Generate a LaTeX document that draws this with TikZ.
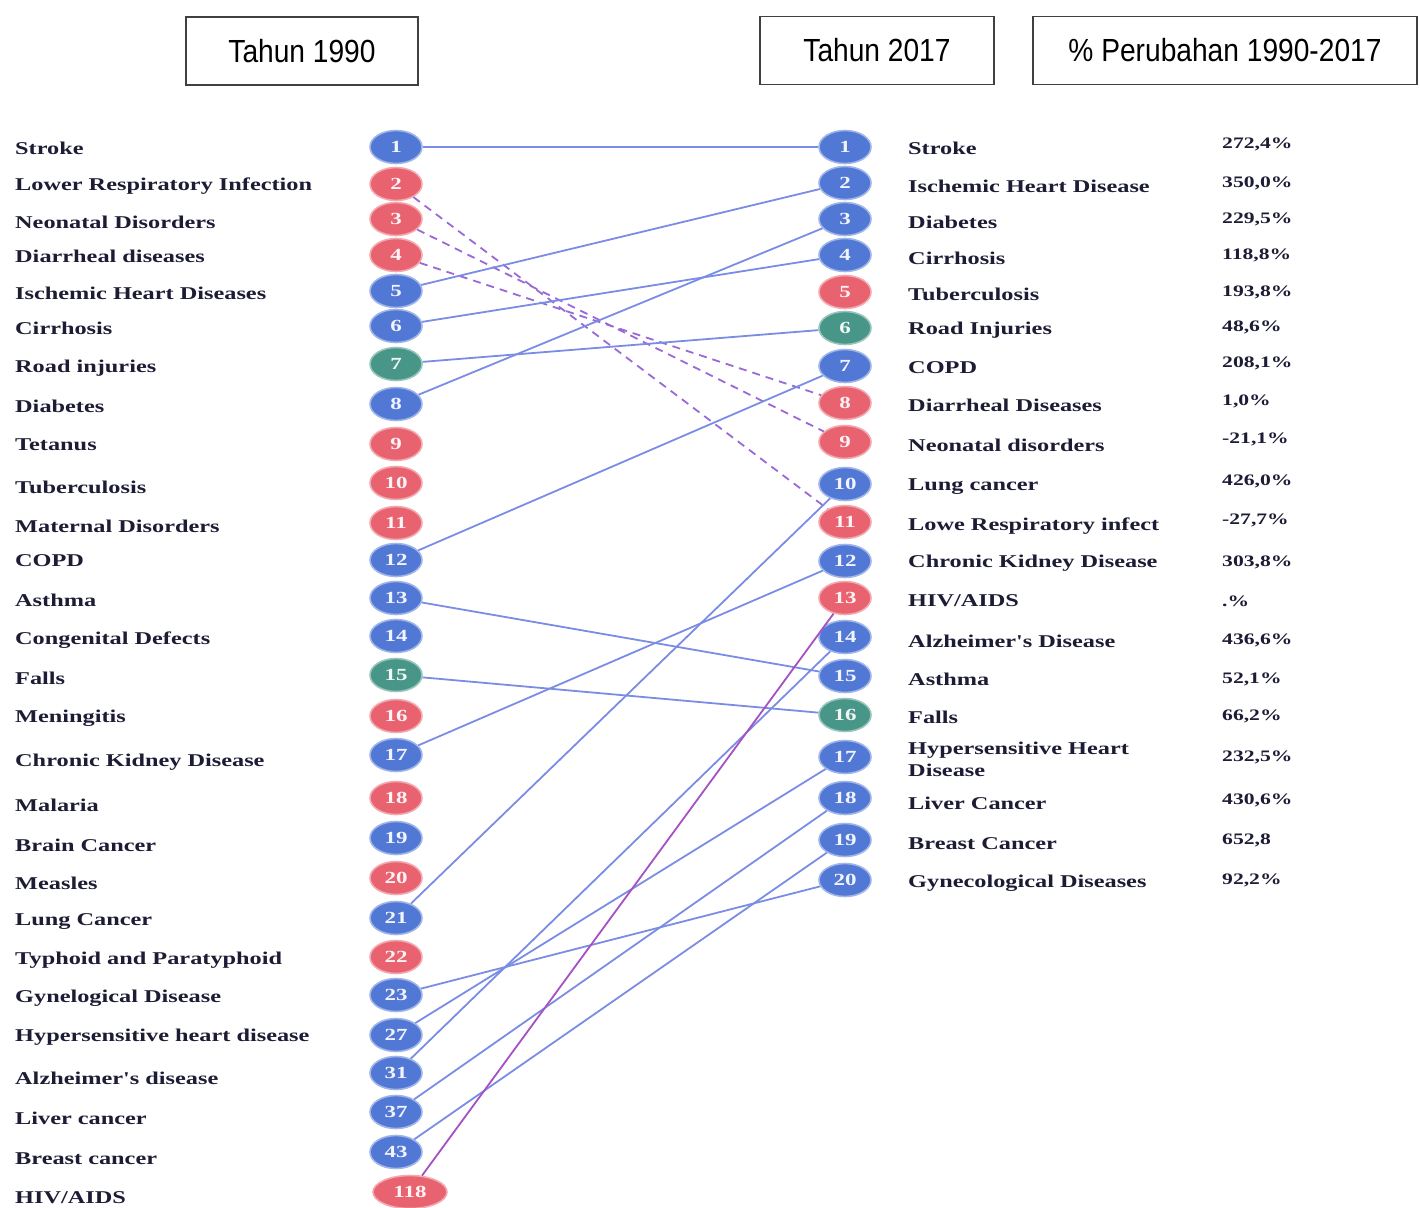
\documentclass[tikz,border=0pt]{standalone}
\usepackage{fontspec}
\usetikzlibrary{shapes.geometric}

\newfontfamily\headfont[FakeStretch=0.88]{Liberation Sans}
\newfontfamily\labelfont[FakeStretch=1.35]{Liberation Serif}

\definecolor{rankblue}{RGB}{82,120,214}
\definecolor{rankred}{RGB}{232,98,112}
\definecolor{rankgreen}{RGB}{72,150,135}
\definecolor{linkblue}{RGB}{122,140,228}
\definecolor{linkpurple}{RGB}{155,105,215}
\definecolor{hivpurple}{RGB}{165,80,195}
\definecolor{inkdark}{RGB}{28,28,52}

\tikzset{
  header/.style={draw=black!75, line width=1.4pt, minimum height=68pt, font=\headfont\fontsize{32}{36}\selectfont},
  rank/.style={ellipse, draw=#1!55!white, line width=1.6pt, fill=#1, minimum width=52pt, minimum height=33pt, inner sep=0pt, text=white!92!#1, font=\labelfont\bfseries\fontsize{17}{19}\selectfont},
  disease/.style={anchor=west, inner sep=0pt, text=inkdark, font=\labelfont\bfseries\fontsize{18}{22}\selectfont},
  change/.style={anchor=west, inner sep=0pt, text=inkdark, font=\labelfont\bfseries\fontsize{16}{18}\selectfont},
  rise/.style={linkblue, line width=1.8pt},
  drop/.style={linkpurple, line width=1.8pt, dash pattern=on 8pt off 6pt},
}

\begin{document}
\begin{tikzpicture}[x=1pt, y=-1pt]
    \useasboundingbox (0,0) rectangle (1420,1207);

    % headers
    \node[header, minimum width=232pt] (head1990) at (302,51) {Tahun 1990};
    \node[header, minimum width=234pt] (head2017) at (877,50.5) {Tahun 2017};
    \node[header, minimum width=384pt] (headpct) at (1225,50.5) {\% Perubahan 1990-2017};

    % 1990 names
    \node[disease] (oldname1) at (15,148) {Stroke};
    \node[disease] (oldname2) at (15,186) {Lower Respiratory Infection};
    \node[disease] (oldname3) at (15,222) {Neonatal Disorders};
    \node[disease] (oldname4) at (15,256) {Diarrheal diseases};
    \node[disease] (oldname5) at (15,293) {Ischemic Heart Diseases};
    \node[disease] (oldname6) at (15,328) {Cirrhosis};
    \node[disease] (oldname7) at (15,368) {Road injuries};
    \node[disease] (oldname8) at (15,406) {Diabetes};
    \node[disease] (oldname9) at (15,445) {Tetanus};
    \node[disease] (oldname10) at (15,487) {Tuberculosis};
    \node[disease] (oldname11) at (15,526) {Maternal Disorders};
    \node[disease] (oldname12) at (15,561) {COPD};
    \node[disease] (oldname13) at (15,600) {Asthma};
    \node[disease] (oldname14) at (15,640) {Congenital Defects};
    \node[disease] (oldname15) at (15,678) {Falls};
    \node[disease] (oldname16) at (15,718) {Meningitis};
    \node[disease] (oldname17) at (15,762) {Chronic Kidney Disease};
    \node[disease] (oldname18) at (15,805) {Malaria};
    \node[disease] (oldname19) at (15,845) {Brain Cancer};
    \node[disease] (oldname20) at (15,883) {Measles};
    \node[disease] (oldname21) at (15,922) {Lung Cancer};
    \node[disease] (oldname22) at (15,960) {Typhoid and Paratyphoid};
    \node[disease] (oldname23) at (15,998) {Gynelogical Disease};
    \node[disease] (oldname27) at (15,1037) {Hypersensitive heart disease};
    \node[disease] (oldname31) at (15,1078) {Alzheimer's disease};
    \node[disease] (oldname37) at (15,1118) {Liver cancer};
    \node[disease] (oldname43) at (15,1159) {Breast cancer};
    \node[disease] (oldname118) at (15,1198) {HIV/AIDS};

    % 1990 ranks
    \node[rank=rankblue] (old1) at (396,147) {1};
    \node[rank=rankred] (old2) at (396,184) {2};
    \node[rank=rankred] (old3) at (396,219) {3};
    \node[rank=rankred] (old4) at (396,255) {4};
    \node[rank=rankblue] (old5) at (396,291) {5};
    \node[rank=rankblue] (old6) at (396,326) {6};
    \node[rank=rankgreen] (old7) at (396,364) {7};
    \node[rank=rankblue] (old8) at (396,404) {8};
    \node[rank=rankred] (old9) at (396,444) {9};
    \node[rank=rankred] (old10) at (396,483) {10};
    \node[rank=rankred] (old11) at (396,523) {11};
    \node[rank=rankblue] (old12) at (396,560) {12};
    \node[rank=rankblue] (old13) at (396,598) {13};
    \node[rank=rankblue] (old14) at (396,636) {14};
    \node[rank=rankgreen] (old15) at (396,675) {15};
    \node[rank=rankred] (old16) at (396,716) {16};
    \node[rank=rankblue] (old17) at (396,755) {17};
    \node[rank=rankred] (old18) at (396,798) {18};
    \node[rank=rankblue] (old19) at (396,838) {19};
    \node[rank=rankred] (old20) at (396,878) {20};
    \node[rank=rankblue] (old21) at (396,918) {21};
    \node[rank=rankred] (old22) at (396,957) {22};
    \node[rank=rankblue] (old23) at (396,995) {23};
    \node[rank=rankblue] (old27) at (396,1035) {27};
    \node[rank=rankblue] (old31) at (396,1073) {31};
    \node[rank=rankblue] (old37) at (396,1112) {37};
    \node[rank=rankblue] (old43) at (396,1152) {43};
    \node[rank=rankred, minimum width=74pt] (old118) at (410,1192) {118};

    % 2017 ranks
    \node[rank=rankblue] (new1) at (845,147) {1};
    \node[rank=rankblue] (new2) at (845,183) {2};
    \node[rank=rankblue] (new3) at (845,219) {3};
    \node[rank=rankblue] (new4) at (845,255) {4};
    \node[rank=rankred] (new5) at (845,292) {5};
    \node[rank=rankgreen] (new6) at (845,328) {6};
    \node[rank=rankblue] (new7) at (845,366) {7};
    \node[rank=rankred] (new8) at (845,403) {8};
    \node[rank=rankred] (new9) at (845,442) {9};
    \node[rank=rankblue] (new10) at (845,484) {10};
    \node[rank=rankred] (new11) at (845,522) {11};
    \node[rank=rankblue] (new12) at (845,561) {12};
    \node[rank=rankred] (new13) at (845,598) {13};
    \node[rank=rankblue] (new14) at (845,637) {14};
    \node[rank=rankblue] (new15) at (845,676) {15};
    \node[rank=rankgreen] (new16) at (845,715) {16};
    \node[rank=rankblue] (new17) at (845,757) {17};
    \node[rank=rankblue] (new18) at (845,798) {18};
    \node[rank=rankblue] (new19) at (845,840) {19};
    \node[rank=rankblue] (new20) at (845,880) {20};

    % 2017 names
    \node[disease] (newname1) at (908,148) {Stroke};
    \node[disease] (newname2) at (908,186) {Ischemic Heart Disease};
    \node[disease] (newname3) at (908,222) {Diabetes};
    \node[disease] (newname4) at (908,258) {Cirrhosis};
    \node[disease] (newname5) at (908,294) {Tuberculosis};
    \node[disease] (newname6) at (908,330) {Road Injuries};
    \node[disease] (newname7) at (908,368) {COPD};
    \node[disease] (newname8) at (908,405) {Diarrheal Diseases};
    \node[disease] (newname9) at (908,445) {Neonatal disorders};
    \node[disease] (newname10) at (908,487) {Lung cancer};
    \node[disease] (newname11) at (908,526) {Lowe Respiratory infect};
    \node[disease] (newname12) at (908,563) {Chronic Kidney Disease};
    \node[disease] (newname13) at (908,601) {HIV/AIDS};
    \node[disease] (newname14) at (908,641) {Alzheimer's Disease};
    \node[disease] (newname15) at (908,679) {Asthma};
    \node[disease] (newname16) at (908,717) {Falls};
    \node[disease, align=left] (newname17) at (908,759) {Hypersensitive Heart\\Disease};
    \node[disease] (newname18) at (908,803) {Liver Cancer};
    \node[disease] (newname19) at (908,844) {Breast Cancer};
    \node[disease] (newname20) at (908,883) {Gynecological Diseases};

    % change 1990-2017
    \node[change] (pct1) at (1222,144) {272,4\%};
    \node[change] (pct2) at (1222,183) {350,0\%};
    \node[change] (pct3) at (1222,219) {229,5\%};
    \node[change] (pct4) at (1222,255) {118,8\%};
    \node[change] (pct5) at (1222,292) {193,8\%};
    \node[change] (pct6) at (1222,327) {48,6\%};
    \node[change] (pct7) at (1222,363) {208,1\%};
    \node[change] (pct8) at (1222,401) {1,0\%};
    \node[change] (pct9) at (1222,439) {-21,1\%};
    \node[change] (pct10) at (1222,481) {426,0\%};
    \node[change] (pct11) at (1222,520) {-27,7\%};
    \node[change] (pct12) at (1222,562) {303,8\%};
    \node[change] (pct13) at (1222,601) {.\%};
    \node[change] (pct14) at (1222,640) {436,6\%};
    \node[change] (pct15) at (1222,679) {52,1\%};
    \node[change] (pct16) at (1222,716) {66,2\%};
    \node[change] (pct17) at (1222,757) {232,5\%};
    \node[change] (pct18) at (1222,800) {430,6\%};
    \node[change] (pct19) at (1222,840) {652,8};
    \node[change] (pct20) at (1222,880) {92,2\%};

    % rank changes
    \draw[rise] (old1) -- (new1);
    \draw[drop] (old2) -- (new11);
    \draw[drop] (old3) -- (new9);
    \draw[drop] (old4) -- (new8);
    \draw[rise] (old5) -- (new2);
    \draw[rise] (old6) -- (new4);
    \draw[rise] (old7) -- (new6);
    \draw[rise] (old8) -- (new3);
    \draw[rise] (old12) -- (new7);
    \draw[rise] (old13) -- (new15);
    \draw[rise] (old15) -- (new16);
    \draw[rise] (old17) -- (new12);
    \draw[rise] (old21) -- (new10);
    \draw[rise] (old23) -- (new20);
    \draw[rise] (old27) -- (new17);
    \draw[rise] (old31) -- (new14);
    \draw[rise] (old37) -- (new18);
    \draw[rise] (old43) -- (new19);
    \draw[hivpurple, line width=1.8pt] (old118) -- (new13);
\end{tikzpicture}
\end{document}
